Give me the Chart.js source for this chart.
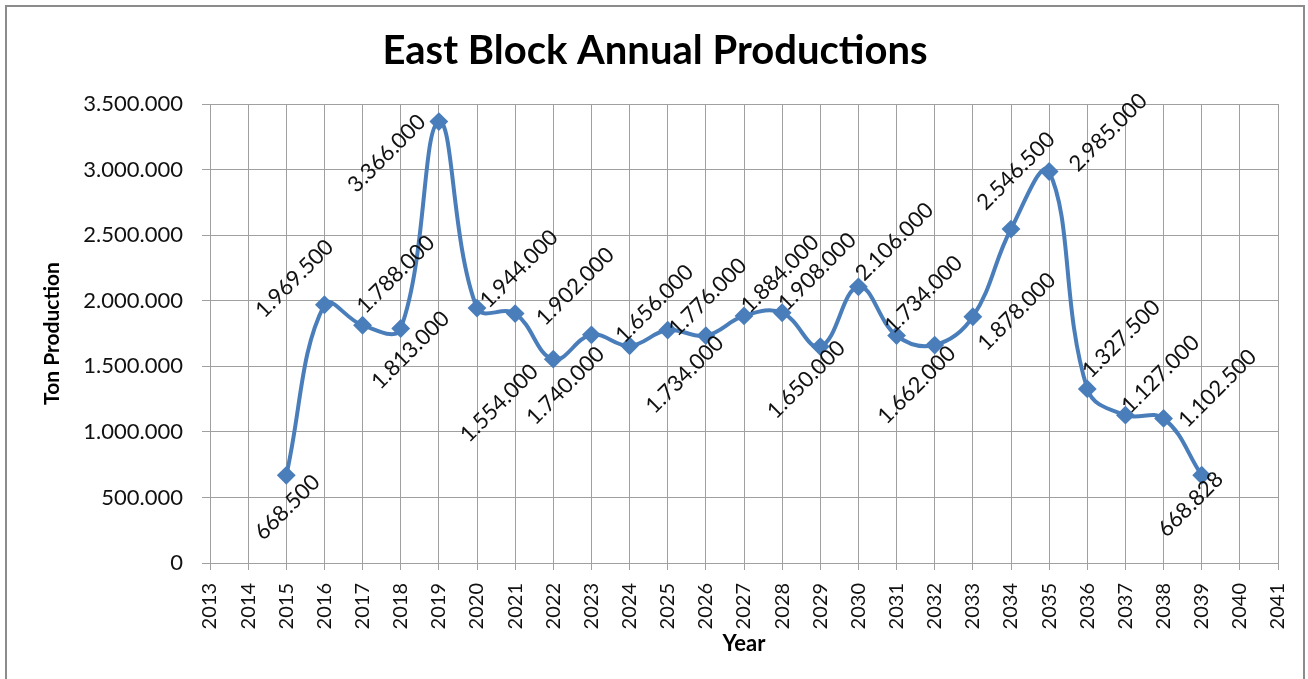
<!DOCTYPE html>
<html>
<head>
<meta charset="utf-8">
<title>East Block Annual Productions</title>
<script src="https://cdn.jsdelivr.net/npm/chart.js@4.4.0/dist/chart.umd.min.js"></script>
<style>
  html, body { margin: 0; background: #fff; }
  canvas { display: block; }
</style>
</head>
<body>
<canvas id="productionChart" width="1308" height="679"></canvas>
<script>
// years on the axis, production in tons (no output before 2015 or after 2039)
const years = [
  '2013', '2014', '2015', '2016', '2017', '2018', '2019', '2020', '2021', '2022',
  '2023', '2024', '2025', '2026', '2027', '2028', '2029', '2030', '2031', '2032',
  '2033', '2034', '2035', '2036', '2037', '2038', '2039', '2040', '2041'
];
const production = [
  null, null, 668500, 1969500, 1813000, 1788000, 3366000, 1944000, 1902000, 1554000,
  1740000, 1656000, 1776000, 1734000, 1884000, 1908000, 1650000, 2106000, 1734000, 1662000,
  1878000, 2546500, 2985000, 1327500, 1127000, 1102500, 668828, null, null
];
const yMax = 3500000;
const yStep = 500000;

// where each value label sits relative to its marker (px)
const labelNudge = [
  null, null, [1, 32], [-30, -26], [48, 25], [-5, -54], [-52, 32], [42, -39], [60, -27], [-54, 44],
  [-26, 51], [25, -42], [40, -33], [-21, 39], [36, -42], [35, -41], [-14, 33], [36, -45], [27, -41], [-18, 40],
  [44, -5], [5, -58], [59, -39], [34, -50], [35, -41], [54, -30], [-11, 29], null, null
];

function dotted(n) {
  return String(n).replace(/\B(?=(\d{3})+(?!\d))/g, '.');
}

const frame = {
  id: 'frame',
  beforeDraw(chart) {
    const ctx = chart.ctx;
    ctx.save();
    ctx.fillStyle = '#fff';
    ctx.fillRect(0, 0, chart.width, chart.height);
    ctx.strokeStyle = '#8c8c8c';
    ctx.lineWidth = 2;
    ctx.strokeRect(6, 6, 1298, 720);
    ctx.restore();
  }
};

const valueLabels = {
  id: 'valueLabels',
  afterDatasetsDraw(chart) {
    const ctx = chart.ctx;
    const meta = chart.getDatasetMeta(0);
    ctx.save();
    ctx.font = '22px Lato';
    ctx.fillStyle = '#111';
    ctx.textAlign = 'center';
    ctx.textBaseline = 'middle';
    meta.data.forEach((pt, i) => {
      const v = production[i];
      if (v == null) return;
      const [dx, dy] = labelNudge[i];
      ctx.save();
      ctx.translate(pt.x + dx, pt.y + dy);
      ctx.rotate(-Math.PI / 4);
      ctx.fillText(dotted(v), 0, 0);
      ctx.restore();
    });
    ctx.restore();
  }
};

Chart.defaults.font.family = 'Lato';
Chart.defaults.color = '#111';

const gridColor = '#a0a0a0';

new Chart(document.getElementById('productionChart'), {
  type: 'line',
  data: {
    labels: years,
    datasets: [{
      label: 'Ton Production',
      data: production,
      borderColor: '#4a7ebb',
      backgroundColor: '#4a7ebb',
      borderWidth: 4,
      tension: 0.4,
      pointStyle: 'rectRot',
      pointRadius: 8,
      pointBorderWidth: 2,
      pointBackgroundColor: '#4a7ebb',
      pointBorderColor: '#4a7ebb'
    }]
  },
  options: {
    responsive: false,
    animation: false,
    layout: { padding: { left: 2, right: 0, top: 0, bottom: 0 } },
    plugins: {
      legend: { display: false },
      tooltip: { enabled: false },
      title: {
        display: true,
        text: 'East Block Annual Productions',
        color: '#000',
        font: { size: 40, weight: 'bold' },
        padding: { top: 27, bottom: 29 }
      }
    },
    scales: {
      x: {
        offset: false,
        grid: { color: gridColor, tickLength: 7, offset: false },
        border: { color: gridColor },
        ticks: { font: { size: 20 }, minRotation: 90, maxRotation: 90, padding: 13, autoSkip: false },
        title: { display: true, text: 'Year', font: { size: 22, weight: 'bold' }, color: '#000', padding: { top: 0, bottom: 22 } },
        afterFit(scale) {
          scale.height = 116;
          scale.paddingLeft = 0;
          scale.paddingRight = 30;
        }
      },
      y: {
        min: 0,
        max: yMax,
        grid: { color: gridColor, tickLength: 8 },
        border: { color: gridColor },
        ticks: { stepSize: yStep, font: { size: 22 }, padding: 19, callback: v => dotted(v) },
        title: { display: true, text: 'Ton Production', font: { size: 21, weight: 'bold' }, color: '#000', padding: { top: 38, bottom: 0 } },
        afterFit(scale) { scale.width = 208; }
      }
    }
  },
  plugins: [frame, valueLabels]
});
</script>
</body>
</html>
